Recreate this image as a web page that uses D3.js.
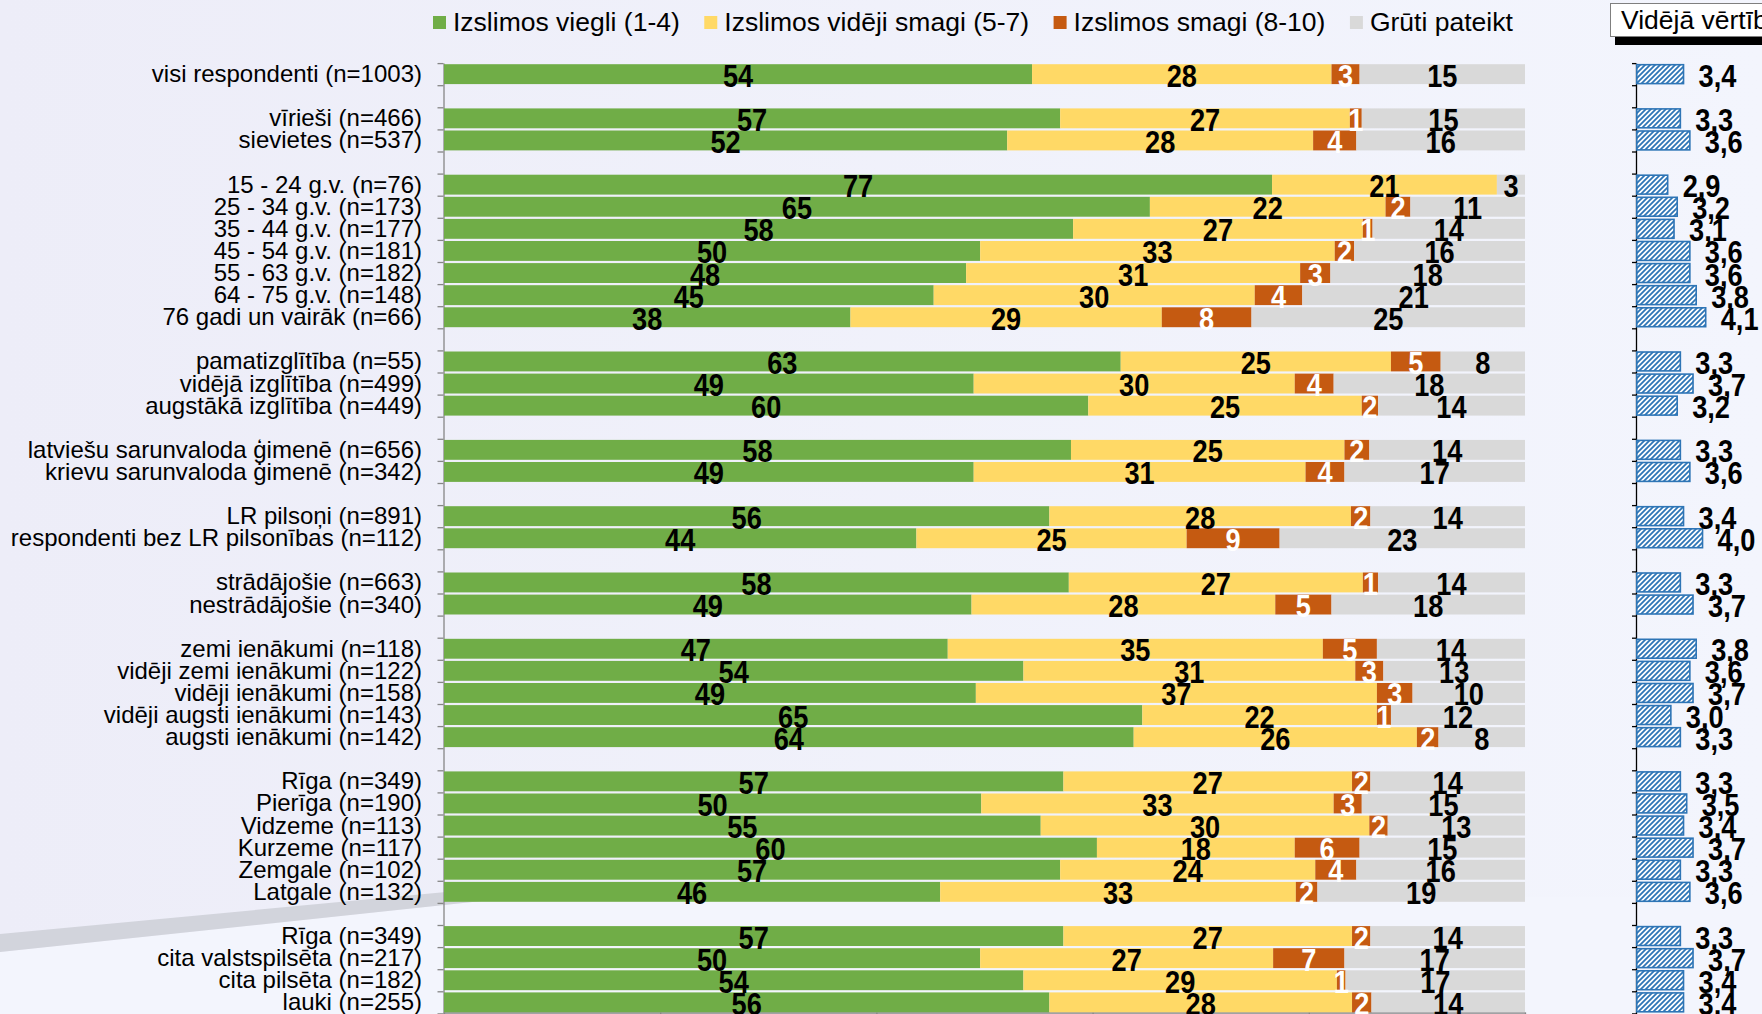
<!DOCTYPE html>
<html><head><meta charset="utf-8">
<script src="https://cdn.jsdelivr.net/npm/d3@7"></script>
<style>body{margin:0;background:#F2F4FD}svg{display:block}</style>
</head><body><svg id="c" width="1762" height="1014"></svg>
<script>
const categories = [
  "visi respondenti (n=1003)",
  "vīrieši (n=466)", "sievietes (n=537)",
  "15 - 24 g.v. (n=76)", "25 - 34 g.v. (n=173)", "35 - 44 g.v. (n=177)", "45 - 54 g.v. (n=181)",
  "55 - 63 g.v. (n=182)", "64 - 75 g.v. (n=148)", "76 gadi un vairāk (n=66)",
  "pamatizglītība (n=55)", "vidējā izglītība (n=499)", "augstākā izglītība (n=449)",
  "latviešu sarunvaloda ģimenē (n=656)", "krievu sarunvaloda ģimenē (n=342)",
  "LR pilsoņi (n=891)", "respondenti bez LR pilsonības (n=112)",
  "strādājošie (n=663)", "nestrādājošie (n=340)",
  "zemi ienākumi (n=118)", "vidēji zemi ienākumi (n=122)", "vidēji ienākumi (n=158)",
  "vidēji augsti ienākumi (n=143)", "augsti ienākumi (n=142)",
  "Rīga (n=349)", "Pierīga (n=190)", "Vidzeme (n=113)", "Kurzeme (n=117)", "Zemgale (n=102)", "Latgale (n=132)",
  "Rīga (n=349)", "cita valstspilsēta (n=217)", "cita pilsēta (n=182)", "lauki (n=255)"
];
const groupSizes = [1, 2, 7, 3, 2, 2, 2, 5, 6, 4];
const seriesNames = ["Izslimos viegli (1-4)", "Izslimos vidēji smagi (5-7)", "Izslimos smagi (8-10)", "Grūti pateikt"];
const viegli = [54.4, 57.0, 52.1, 76.6, 65.3, 58.2, 49.6, 48.3, 45.3, 37.6, 62.6, 49.0, 59.6, 58.0, 49.0, 56.0, 43.7, 57.8, 48.8, 46.6, 53.6, 49.2, 64.6, 63.8, 57.3, 49.7, 55.2, 60.4, 57.0, 45.9, 57.3, 49.6, 53.6, 56.0];
const videji = [27.7, 26.8, 28.3, 20.8, 21.8, 26.8, 32.8, 30.9, 29.7, 28.8, 25.0, 29.7, 25.3, 25.3, 30.7, 27.9, 25.0, 27.2, 28.1, 34.7, 30.7, 37.1, 21.7, 26.2, 26.7, 32.6, 30.4, 18.3, 23.6, 32.9, 26.7, 27.1, 29.0, 28.0];
const smagi = [2.6, 1.1, 4.0, 0, 2.3, 0.9, 1.8, 2.8, 4.4, 8.3, 4.6, 3.6, 1.5, 2.3, 3.6, 1.8, 8.6, 1.4, 5.2, 5.0, 2.6, 3.3, 1.3, 2.0, 1.7, 2.6, 1.7, 6.0, 3.8, 2.0, 1.7, 6.6, 0.8, 1.8];
const gruti = [15.3, 15.1, 15.6, 2.6, 10.6, 14.1, 15.8, 18.0, 20.6, 25.3, 7.8, 17.7, 13.6, 14.4, 16.7, 14.3, 22.7, 13.6, 17.9, 13.7, 13.1, 10.4, 12.4, 8.0, 14.3, 15.1, 12.7, 15.3, 15.6, 19.2, 14.3, 16.7, 16.6, 14.2];
const averages = [3.4, 3.3, 3.6, 2.9, 3.2, 3.1, 3.6, 3.6, 3.8, 4.1, 3.3, 3.7, 3.2, 3.3, 3.6, 3.4, 4.0, 3.3, 3.7, 3.8, 3.6, 3.7, 3.0, 3.3, 3.3, 3.5, 3.4, 3.7, 3.3, 3.6, 3.3, 3.7, 3.4, 3.4];
const pctTicks = [0, 20, 40, 60, 80, 100];
const avgTitle = "Vidējā vērtība";

const colors = ["#70AD47", "#FFD966", "#C55A11", "#D9D9D9"];
const labelColors = ["#000", "#000", "#fff", "#000"];
const keys = ["viegli", "videji", "smagi", "gruti"];
const FONT = "'Liberation Sans', Arial, sans-serif";
const NARROW = 0.85;

const svg = d3.select("#c");

// background
const defs = svg.append("defs");
const bg = defs.append("linearGradient").attr("id", "bg").attr("x1", "0").attr("x2", "1").attr("y1", "0").attr("y2", "0");
bg.append("stop").attr("offset", "0").attr("stop-color", "#EDEDF8");
bg.append("stop").attr("offset", "1").attr("stop-color", "#F3F5FD");
svg.append("rect").attr("width", 1762).attr("height", 1014).attr("fill", "url(#bg)");
svg.append("path").attr("d", "M0,952 L520,897 L1762,897 L1762,1014 L0,1014 Z").attr("fill", "#F3F5FD");
svg.append("path").attr("d", "M0,934 L520,885 L520,897 L0,952 Z").attr("fill", "#D2D4DC");

const pat = defs.append("pattern").attr("id", "hatch").attr("patternUnits", "userSpaceOnUse")
  .attr("width", 5).attr("height", 5);
pat.append("rect").attr("width", 5).attr("height", 5).attr("fill", "#fff");
pat.append("path").attr("d", "M-1,1 L1,-1 M0,5 L5,0 M4,6 L6,4").attr("stroke", "#2E75B6").attr("stroke-width", 1.8);

// slots
const slots = [];
let ci = 0;
groupSizes.forEach((n, g) => {
  if (g > 0) slots.push({ key: "gap" + g, idx: -1 });
  for (let k = 0; k < n; k++) { slots.push({ key: "c" + ci, idx: ci }); ci++; }
});
const y = d3.scaleBand().domain(slots.map(s => s.key)).range([63.1, 1013.4]).paddingInner(0.1).paddingOuter(0.05);
const ySlot = d3.scaleLinear().domain([0, slots.length]).range([63.1, 1013.4]);
const x = d3.scaleLinear().domain([0, 100]).range([444, 1525]);
const xa = d3.scaleLinear().domain([1.9, 4.1]).range([1636, 1705.7]);

const rows = categories.map((c, i) => ({ key: "c" + i, name: c, viegli: viegli[i], videji: videji[i], smagi: smagi[i], gruti: gruti[i], avg: averages[i] }));
const stacked = d3.stack().keys(keys)(rows);

// axes
const gAx = svg.append("g").attr("transform", "translate(443.5,0)")
  .call(d3.axisLeft(ySlot).tickValues(d3.range(slots.length + 1)).tickFormat("").tickSize(6).tickSizeOuter(0));
gAx.selectAll("path,line").attr("stroke", "#868686").attr("stroke-width", 1.3);

const gBx = svg.append("g").attr("transform", "translate(0,1012.5)")
  .call(d3.axisBottom(x).tickValues(pctTicks).tickFormat("").tickSize(5).tickSizeOuter(0));
gBx.selectAll("path,line").attr("stroke", "#868686").attr("stroke-width", 1.3);

// bars
stacked.forEach((s, si) => {
  svg.append("g").selectAll("rect").data(s).join("rect")
    .attr("x", d => x(d[0])).attr("width", d => x(d[1]) - x(d[0]))
    .attr("y", d => y(d.data.key)).attr("height", y.bandwidth())
    .attr("fill", colors[si]);
});
stacked.forEach((s, si) => {
  svg.append("g").selectAll("text").data(s.filter(d => d.data[keys[si]] > 0)).join("text")
    .attr("transform", d => `translate(${x((d[0] + d[1]) / 2)},${y(d.data.key) + y.bandwidth() / 2 + 12.5}) scale(${NARROW},1)`)
    .attr("text-anchor", "middle")
    .attr("font-family", FONT).attr("font-weight", "bold").attr("font-size", 32)
    .attr("fill", labelColors[si])
    .text(d => Math.round(d.data[keys[si]]));
});

// category labels
svg.append("g").selectAll("text").data(rows).join("text")
  .attr("x", 422).attr("y", d => y(d.key) + y.bandwidth() / 2 + 8)
  .attr("text-anchor", "end").attr("font-family", FONT).attr("font-size", 24).attr("fill", "#000")
  .text(d => d.name);

// legend
let lx = 433;
seriesNames.forEach((n, i) => {
  svg.append("rect").attr("x", lx).attr("y", 16).attr("width", 13).attr("height", 13).attr("fill", colors[i]);
  const t = svg.append("text").attr("x", lx + 20).attr("y", 31).attr("font-family", FONT).attr("font-size", 26.5).attr("fill", "#000").text(n);
  lx += 20 + t.node().getComputedTextLength() + 24.5;
});

// average panel
svg.append("rect").attr("x", 1615).attr("y", 11).attr("width", 200).attr("height", 34).attr("fill", "#000");
svg.append("rect").attr("x", 1610.5).attr("y", 3.5).attr("width", 200).attr("height", 33).attr("fill", "#fff").attr("stroke", "#7F7F7F").attr("stroke-width", 1);
svg.append("text").attr("x", 1621).attr("y", 29).attr("font-family", FONT).attr("font-size", 26.5).attr("fill", "#000").text(avgTitle);

const gAv = svg.append("g").attr("transform", "translate(1636,0)")
  .call(d3.axisLeft(ySlot).tickValues(d3.range(slots.length + 1)).tickFormat("").tickSize(4).tickSizeOuter(0));
gAv.selectAll("path,line").attr("stroke", "#000").attr("stroke-width", 1.3);

svg.append("g").selectAll("rect").data(rows).join("rect")
  .attr("x", xa(1.9) + 0.8).attr("width", d => xa(d.avg) - xa(1.9) - 0.8)
  .attr("y", d => y(d.key) + 0.5).attr("height", y.bandwidth() - 1)
  .attr("fill", "url(#hatch)").attr("stroke", "#2E75B6").attr("stroke-width", 1.6);

svg.append("g").selectAll("text").data(rows).join("text")
  .attr("transform", d => `translate(${xa(d.avg) + 15},${y(d.key) + y.bandwidth() / 2 + 12.5}) scale(${NARROW},1)`)
  .attr("font-family", FONT).attr("font-weight", "bold").attr("font-size", 32).attr("fill", "#000")
  .text(d => d3.format(".1f")(d.avg).replace(".", ","));
</script>
</body></html>
